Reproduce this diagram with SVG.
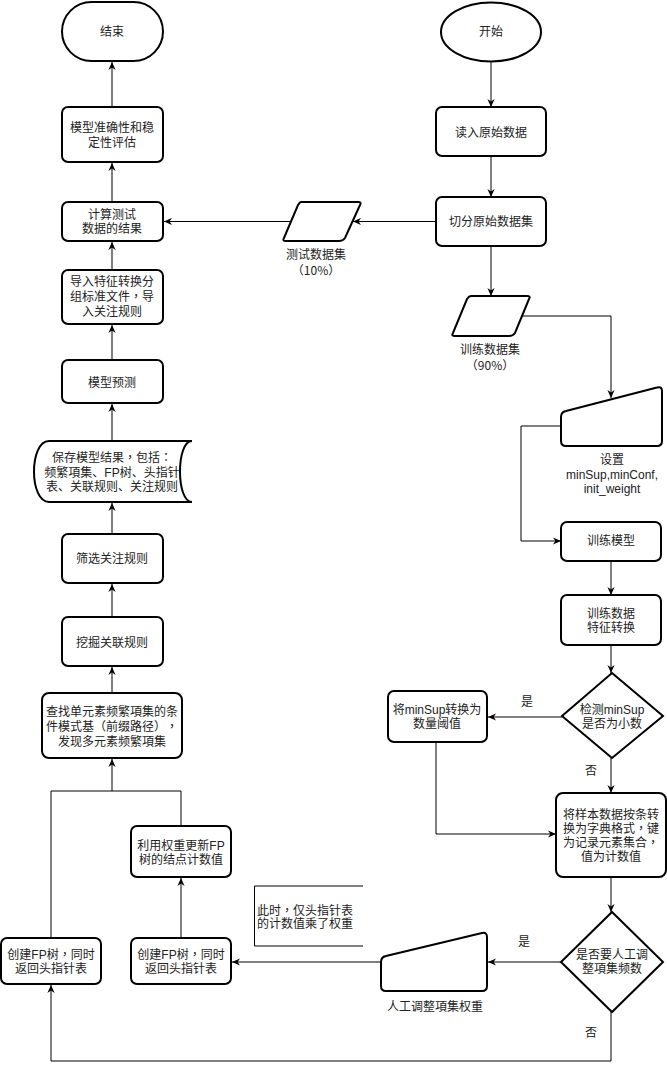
<svg xmlns="http://www.w3.org/2000/svg" width="667" height="1070" viewBox="0 0 667 1070">
<defs>
<marker id="arr" viewBox="0 0 10 10" refX="10" refY="5" markerWidth="8" markerHeight="8" markerUnits="userSpaceOnUse" orient="auto">
<path d="M0,0.5 L10,5 L0,9.5 L3,5 Z" fill="#000"/>
</marker>
</defs>
<style>
.n{fill:#fff;stroke:#000;stroke-width:2}
.c{fill:none;stroke:#000;stroke-width:1}
.a{marker-end:url(#arr)}
text{font-family:"Liberation Sans","Noto Sans CJK SC",sans-serif;font-size:12px;fill:#222;text-anchor:middle;text-spacing-trim:space-all}
.l{text-anchor:start}
.p{font-family:"Liberation Sans","Noto Sans CJK TC",sans-serif}
.q{font-family:"Noto Sans CJK TC",sans-serif}
</style>
<rect width="667" height="1070" fill="#fff"/>

<g id="connectors">
<path class="c a" d="M491,62 V107"/>
<path class="c a" d="M491,156 V197"/>
<path class="c a" d="M436,221.5 H353"/>
<path class="c a" d="M291,221.5 H164"/>
<path class="c a" d="M491,246 V296"/>
<path class="c a" d="M523,316 H611 V398"/>
<path class="c a" d="M561,426 H521 V541 H561"/>
<path class="c a" d="M611,561 V595"/>
<path class="c a" d="M611,645 V673"/>
<path class="c a" d="M562,717 H488"/>
<path class="c a" d="M611,758 V793"/>
<path class="c a" d="M436,742 V834 H556"/>
<path class="c a" d="M611,877 V912"/>
<path class="c a" d="M561,962 H488"/>
<path class="c a" d="M381,962 H232"/>
<path class="c a" d="M611,1012 V1061 H51 V985"/>
<path class="c a" d="M181,938 V878"/>
<path class="c a" d="M51,938 V791 H112 V759"/>
<path class="c" d="M181,826 V791 H112"/>
<path class="c a" d="M112,693 V667"/>
<path class="c a" d="M112,617 V584"/>
<path class="c a" d="M112,534 V503"/>
<path class="c a" d="M112,441 V404"/>
<path class="c a" d="M112,360 V325"/>
<path class="c a" d="M112,270 V242"/>
<path class="c a" d="M112,202 V163"/>
<path class="c a" d="M112,107 V62"/>
<text x="527" y="706">是</text>
<text x="591" y="775">否</text>
<text x="524" y="946">是</text>
<text x="591" y="1037">否</text>
</g>

<g id="end"><rect class="n" x="62" y="2" width="101" height="59" rx="29.5"/><text x="112" y="36">结束</text></g>
<g id="start"><ellipse class="n" cx="491" cy="32" rx="50" ry="29.5"/><text x="491" y="36">开始</text></g>

<g id="eval"><rect class="n" x="62" y="107" width="101" height="55" rx="6"/><text x="112" y="132">模型准确性和稳</text><text x="112" y="147">定性评估</text></g>
<g id="calc"><rect class="n" x="62" y="202" width="101" height="39" rx="6"/><text x="112" y="219">计算测试</text><text x="112" y="233">数据的结果</text></g>
<g id="import"><rect class="n" x="62" y="270" width="101" height="54" rx="6"/><text x="112" y="286">导入特征转换分</text><text class="p" x="112" y="301">组标准文件，导</text><text x="112" y="316">入关注规则</text></g>
<g id="predict"><rect class="n" x="62" y="360" width="101" height="43" rx="6"/><text x="112" y="387">模型预测</text></g>
<g id="save"><path class="n" d="M49,441 H192 C176,441 176,502 192,502 H49 C29,502 29,441 49,441 Z"/><text class="p" x="112" y="462">保存模型结果，包括：</text><text x="112" y="477">频繁項集、FP树、头指针</text><text x="112" y="491">表、关联规则、关注规则</text></g>
<g id="filter"><rect class="n" x="62" y="534" width="101" height="49" rx="6"/><text x="112" y="563">筛选关注规则</text></g>
<g id="mine"><rect class="n" x="62" y="617" width="101" height="49" rx="6"/><text x="112" y="647">挖掘关联规则</text></g>
<g id="find"><rect class="n" x="42" y="693" width="140" height="65" rx="7"/><text x="112" y="716">查找单元素频繁項集的条</text><text class="q" x="112" y="731">件模式基（前缀路径），</text><text x="112" y="746">发现多元素频繁項集</text></g>
<g id="update"><rect class="n" x="131" y="826" width="100" height="51" rx="6"/><text x="181" y="850">利用权重更新FP</text><text x="181" y="864">树的结点计数值</text></g>
<g id="createL"><rect class="n" x="1" y="938" width="100" height="46" rx="6"/><text class="p" x="51" y="959">创建FP树，同时</text><text x="51" y="973">返回头指针表</text></g>
<g id="createR"><rect class="n" x="131" y="938" width="100" height="46" rx="6"/><text class="p" x="181" y="959">创建FP树，同时</text><text x="181" y="973">返回头指针表</text></g>
<g id="note"><path class="c" d="M363,886 H254.5 V946 H363"/><text class="l p" x="257" y="915">此时，仅头指针表</text><text class="l" x="257" y="928">的计数值乘了权重</text></g>

<g id="read"><rect class="n" x="436" y="107" width="110" height="49" rx="6"/><text x="491" y="137">读入原始数据</text></g>
<g id="split"><rect class="n" x="436" y="197" width="110" height="49" rx="6"/><text x="491" y="226">切分原始数据集</text></g>
<g id="testset"><path class="n" d="M301,202 H358 Q362,202 360,205 L345,238 Q343,241 339,241 H286 Q282,241 284,238 L298,205 Q300,202 301,202 Z"/><text x="316" y="259">测试数据集</text><text class="q" x="316" y="275">（10%）</text></g>
<g id="trainset"><path class="n" d="M471,296 H527 Q531,296 529,299 L515,333 Q513,336 509,336 H455 Q451,336 453,333 L467,299 Q469,296 471,296 Z"/><text x="490" y="354">训练数据集</text><text class="q" x="490" y="370">（90%）</text></g>
<g id="setparam"><path class="n" d="M566,411 L657,387.5 Q662,386 662,391 V441 Q662,446 657,446 H566 Q561,446 561,441 V417 Q561,412 566,411 Z"/><text x="612" y="464">设置</text><text x="612" y="479">minSup,minConf,</text><text x="612" y="493">init_weight</text></g>
<g id="train"><rect class="n" x="561" y="522" width="100" height="39" rx="6"/><text x="611" y="545">训练模型</text></g>
<g id="feature"><rect class="n" x="561" y="595" width="100" height="50" rx="6"/><text x="611" y="618">训练数据</text><text x="611" y="632">特征转换</text></g>
<g id="check"><path class="n" d="M612,673 L663,716 L612,758 L562,716 Z"/><text x="612" y="714">检测minSup</text><text x="612" y="728">是否为小数</text></g>
<g id="convert"><rect class="n" x="388" y="691" width="99" height="51" rx="6"/><text x="437" y="714">将minSup转换为</text><text x="437" y="728">数量阈值</text></g>
<g id="dict"><rect class="n" x="556" y="793" width="110" height="84" rx="7"/><text x="611" y="819">将样本数据按条转</text><text class="p" x="611" y="833">换为字典格式，键</text><text class="p" x="611" y="847">为记录元素集合，</text><text x="611" y="861">值为计数值</text></g>
<g id="ask"><path class="n" d="M612,912 L663,962 L612,1012 L561,962 Z"/><text x="612" y="959">是否要人工调</text><text x="612" y="973">整項集频数</text></g>
<g id="adjust"><path class="n" d="M386,956 L482,933 Q487,932 487,937 V986 Q487,991 482,991 H386 Q381,991 381,986 V962 Q381,957 386,956 Z"/><text x="435" y="1011">人工调整項集权重</text></g>
</svg>
